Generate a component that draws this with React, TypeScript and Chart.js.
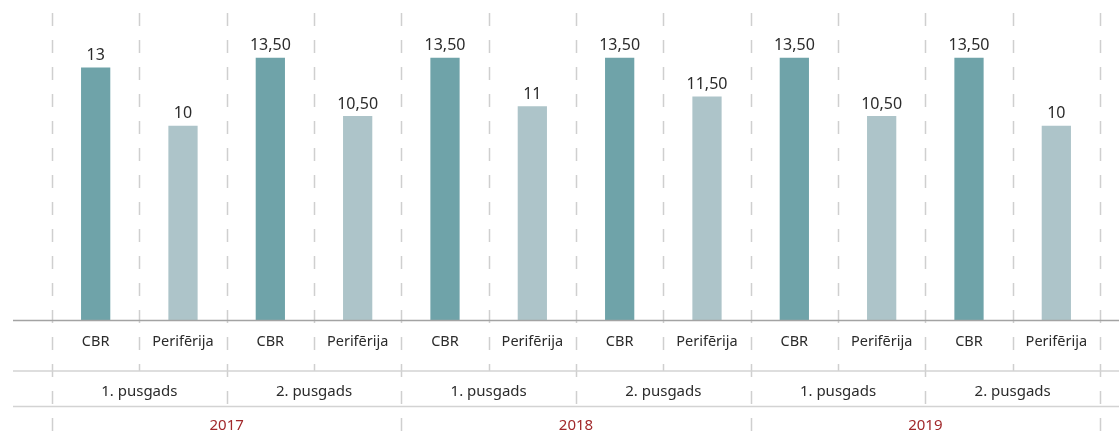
import React, { useEffect, useRef } from "react";
import { Chart, registerables } from "chart.js";
Chart.register(...registerables);

const categories = [
  "CBR", "Perifērija", "CBR", "Perifērija",
  "CBR", "Perifērija", "CBR", "Perifērija",
  "CBR", "Perifērija", "CBR", "Perifērija",
];
const values = [13, 10, 13.5, 10.5, 13.5, 11, 13.5, 11.5, 13.5, 10.5, 13.5, 10];
const valueLabels = ["13", "10", "13,50", "10,50", "13,50", "11", "13,50", "11,50", "13,50", "10,50", "13,50", "10"];
const halfYears = ["1. pusgads", "2. pusgads", "1. pusgads", "2. pusgads", "1. pusgads", "2. pusgads"];
const years = ["2017", "2018", "2019"];
const seriesColors = { CBR: "#6fa3a9", "Perifērija": "#adc4c9" } as Record<string, string>;

const FONT = "'Noto Sans', sans-serif";

const multiLevelPlugin = {
  id: "multiLevel",
  beforeDatasetsDraw(chart: any) {
    const { ctx, chartArea } = chart;
    const xs = chart.scales.x;
    const n = categories.length;
    const w = (chartArea.right - chartArea.left) / n;
    ctx.save();
    ctx.strokeStyle = "#cfcfcf";
    ctx.lineWidth = 1.5;
    ctx.setLineDash([13, 14]);
    for (let i = 0; i <= n; i++) {
      const x = Math.round(xs.left + i * w) + 0.5;
      const bottom = i % 4 === 0 ? 441 : i % 2 === 0 ? 406 : 371;
      ctx.beginPath();
      ctx.moveTo(x, chartArea.top);
      ctx.lineTo(x, bottom);
      ctx.stroke();
    }
    ctx.restore();
  },
  afterDraw(chart: any) {
    const { ctx, chartArea } = chart;
    const xs = chart.scales.x;
    const n = categories.length;
    const w = (chartArea.right - chartArea.left) / n;
    ctx.save();
    // horizontal lines
    ctx.setLineDash([]);
    ctx.lineWidth = 1.5;
    ctx.strokeStyle = "#d3d3d3";
    [371, 406.5].forEach((y) => {
      ctx.beginPath();
      ctx.moveTo(13, y);
      ctx.lineTo(1119, y);
      ctx.stroke();
    });
    ctx.strokeStyle = "#a3a3a3";
    ctx.beginPath();
    ctx.moveTo(13, chartArea.bottom + 0.5);
    ctx.lineTo(1119, chartArea.bottom + 0.5);
    ctx.stroke();

    ctx.textAlign = "center";
    ctx.textBaseline = "middle";
    // data labels
    const meta = chart.getDatasetMeta(0);
    ctx.fillStyle = "#2b2b2b";
    ctx.font = `16px ${FONT}`;
    meta.data.forEach((bar: any, i: number) => {
      ctx.fillText(valueLabels[i], bar.x, bar.y - 12);
    });
    // category labels
    ctx.font = `14.5px ${FONT}`;
    categories.forEach((c, i) => {
      ctx.fillText(c, xs.getPixelForValue(i), 342);
    });
    ctx.font = `15px ${FONT}`;
    halfYears.forEach((h, j) => {
      const x = xs.left + (j * 2 + 1) * w;
      ctx.fillText(h, x, 392);
    });
    ctx.fillStyle = "#a1282b";
    years.forEach((yv, k) => {
      const x = xs.left + (k * 4 + 2) * w;
      ctx.fillText(yv, x, 426);
    });
    ctx.restore();
  },
};

export default function App() {
  const ref = useRef<HTMLCanvasElement>(null);
  useEffect(() => {
    document.body.style.margin = "0";
    const chart = new Chart(ref.current as HTMLCanvasElement, {
      type: "bar",
      data: {
        labels: categories,
        datasets: [
          {
            data: values,
            backgroundColor: categories.map((c) => seriesColors[c]),
            categoryPercentage: 1,
            barPercentage: 0.335,
          },
        ],
      },
      options: {
        animation: false,
        responsive: false,
        maintainAspectRatio: false,
        layout: { padding: { left: 52, right: 19, top: 13, bottom: 121 } },
        plugins: { legend: { display: false }, tooltip: { enabled: false } },
        scales: {
          x: { display: false, offset: true, grid: { display: false } },
          y: { display: false, min: 0, max: 15.8 },
        },
      },
      plugins: [multiLevelPlugin],
    });
    return () => chart.destroy();
  }, []);
  return (
    <div style={{ position: "absolute", left: 0, top: 0, width: 1119, height: 441 }}>
      <canvas ref={ref} width={1119} height={441} style={{ width: 1119, height: 441 }} />
    </div>
  );
}
